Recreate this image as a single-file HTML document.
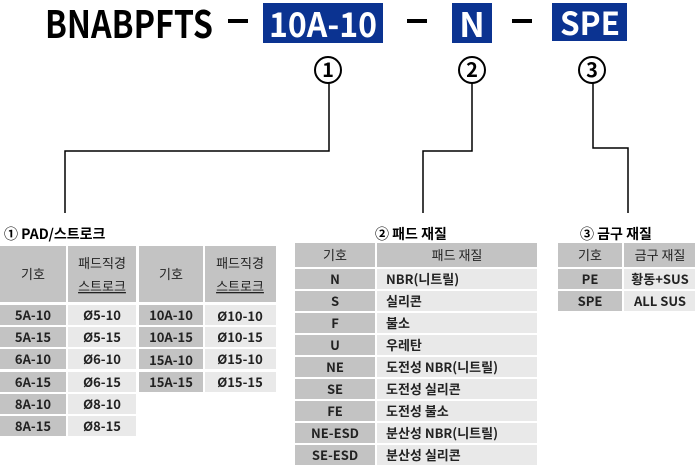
<!DOCTYPE html>
<html><head><meta charset="utf-8"><style>
html,body{margin:0;padding:0;background:#fff;}
svg{display:block}
text{font-family:"Noto Sans CJK KR","Liberation Sans",sans-serif;}
.c{font-size:13px;font-weight:bold;fill:#222;text-anchor:middle}
.h{font-size:13px;fill:#222;text-anchor:middle}
.l{font-size:13px;font-weight:bold;fill:#222}
.t{font-size:14px;font-weight:bold;fill:#000}
</style></head><body>
<svg width="695" height="475" viewBox="0 0 695 475" xmlns="http://www.w3.org/2000/svg">
<text x="45" y="38" font-size="38" font-weight="bold" textLength="168" lengthAdjust="spacingAndGlyphs" fill="#000">BNABPFTS</text>
<rect x="228" y="19" width="20" height="4" fill="#000"/>
<rect x="263" y="3" width="120" height="40" fill="#0b3391"/>
<text x="269" y="37" font-size="34" font-weight="bold" textLength="108" lengthAdjust="spacingAndGlyphs" fill="#fff">10A-10</text>
<rect x="407" y="19" width="20" height="4" fill="#000"/>
<rect x="452" y="3" width="40" height="40" fill="#0b3391"/>
<text x="472" y="37" font-size="34" font-weight="bold" text-anchor="middle" fill="#fff">N</text>
<rect x="512" y="19" width="20" height="4" fill="#000"/>
<rect x="552" y="3" width="75" height="38" fill="#0b3391"/>
<text x="560" y="35" font-size="32" font-weight="bold" textLength="60" lengthAdjust="spacingAndGlyphs" fill="#fff">SPE</text>
<g fill="none" stroke="#000" stroke-width="2">
<circle cx="328" cy="70" r="13"/><circle cx="472" cy="70" r="13"/><circle cx="592" cy="70" r="13"/>
</g>
<g font-size="20" font-weight="bold" text-anchor="middle" fill="#000">
<text x="328" y="77">1</text><text x="472" y="77">2</text><text x="592" y="77">3</text>
</g>
<g fill="none" stroke="#000" stroke-width="1.5">
<polyline points="329,83 329,151 65,151 65,213"/>
<polyline points="472,83 472,151 423,151 423,213"/>
<polyline points="593,83 593,148 628,148 628,213"/>
</g>
<text x="4" y="239" class="t">① PAD/스트로크</text>
<text x="375" y="239" class="t">② 패드 재질</text>
<text x="580" y="239" class="t">③ 금구 재질</text>
<g fill="#c3c3c3">
<rect x="0" y="246" width="66" height="56"/><rect x="68" y="246" width="68" height="56"/>
<rect x="139" y="246" width="64" height="56"/><rect x="205" y="246" width="71" height="56"/>
</g>
<text x="33" y="279" class="h">기호</text>
<text x="102" y="268" class="h">패드직경</text>
<text x="102" y="291" class="h" text-decoration="underline">스트로크</text>
<text x="171" y="279" class="h">기호</text>
<text x="240" y="268" class="h">패드직경</text>
<text x="240" y="291" class="h" text-decoration="underline">스트로크</text>
<g fill="#c3c3c3">
<rect x="0" y="305" width="66" height="20"/><rect x="0" y="327" width="66" height="20"/><rect x="0" y="349" width="66" height="20"/><rect x="0" y="372" width="66" height="20"/><rect x="0" y="394" width="66" height="20"/><rect x="0" y="416" width="66" height="20"/>
<rect x="139" y="305" width="64" height="20"/><rect x="139" y="327" width="64" height="20"/><rect x="139" y="349" width="64" height="20"/><rect x="139" y="372" width="64" height="20"/>
</g>
<g fill="#e9e9e9">
<rect x="68" y="305" width="68" height="20"/><rect x="68" y="327" width="68" height="20"/><rect x="68" y="349" width="68" height="20"/><rect x="68" y="372" width="68" height="20"/><rect x="68" y="394" width="68" height="20"/><rect x="68" y="416" width="68" height="20"/>
<rect x="205" y="305" width="71" height="20"/><rect x="205" y="327" width="71" height="20"/><rect x="205" y="349" width="71" height="20"/><rect x="205" y="372" width="71" height="20"/>
</g>
<text x="33" y="320" class="c">5A-10</text><text x="102" y="320" class="c">Ø5-10</text><text x="171" y="320" class="c">10A-10</text><text x="240" y="321" class="c">Ø10-10</text>
<text x="33" y="342" class="c">5A-15</text><text x="102" y="342" class="c">Ø5-15</text><text x="171" y="342" class="c">10A-15</text><text x="240" y="342" class="c">Ø10-15</text>
<text x="33" y="364" class="c">6A-10</text><text x="102" y="364" class="c">Ø6-10</text><text x="171" y="365" class="c">15A-10</text><text x="240" y="364" class="c">Ø15-10</text>
<text x="33" y="387" class="c">6A-15</text><text x="102" y="387" class="c">Ø6-15</text><text x="171" y="387" class="c">15A-15</text><text x="240" y="387" class="c">Ø15-15</text>
<text x="33" y="409" class="c">8A-10</text><text x="102" y="409" class="c">Ø8-10</text>
<text x="33" y="431" class="c">8A-15</text><text x="102" y="431" class="c">Ø8-15</text>
<rect x="295" y="243" width="80" height="24" fill="#c3c3c3"/><rect x="377" y="243" width="160" height="24" fill="#c3c3c3"/>
<text x="335" y="260" class="h">기호</text><text x="457" y="260" class="h">패드 재질</text>
<g fill="#c3c3c3">
<rect x="295" y="269" width="80" height="20"/><rect x="295" y="291" width="80" height="20"/><rect x="295" y="313" width="80" height="20"/><rect x="295" y="335" width="80" height="20"/><rect x="295" y="357" width="80" height="20"/><rect x="295" y="379" width="80" height="20"/><rect x="295" y="401" width="80" height="20"/><rect x="295" y="423" width="80" height="20"/><rect x="295" y="445" width="80" height="20"/>
</g>
<g fill="#e9e9e9">
<rect x="377" y="269" width="160" height="20"/><rect x="377" y="291" width="160" height="20"/><rect x="377" y="313" width="160" height="20"/><rect x="377" y="335" width="160" height="20"/><rect x="377" y="357" width="160" height="20"/><rect x="377" y="379" width="160" height="20"/><rect x="377" y="401" width="160" height="20"/><rect x="377" y="423" width="160" height="20"/><rect x="377" y="445" width="160" height="20"/>
</g>
<text x="335" y="284" class="c">N</text><text x="386" y="284" class="l">NBR(니트릴)</text>
<text x="335" y="306" class="c">S</text><text x="386" y="306" class="l">실리콘</text>
<text x="335" y="328" class="c">F</text><text x="386" y="328" class="l">불소</text>
<text x="335" y="350" class="c">U</text><text x="386" y="350" class="l">우레탄</text>
<text x="335" y="372" class="c">NE</text><text x="386" y="372" class="l">도전성 NBR(니트릴)</text>
<text x="335" y="394" class="c">SE</text><text x="386" y="394" class="l">도전성 실리콘</text>
<text x="335" y="416" class="c">FE</text><text x="386" y="416" class="l">도전성 불소</text>
<text x="335" y="438" class="c">NE-ESD</text><text x="386" y="438" class="l">분산성 NBR(니트릴)</text>
<text x="335" y="460" class="c">SE-ESD</text><text x="386" y="460" class="l">분산성 실리콘</text>
<rect x="558" y="243" width="64" height="24" fill="#c3c3c3"/><rect x="624" y="243" width="71" height="24" fill="#c3c3c3"/>
<text x="590" y="260" class="h">기호</text><text x="660" y="260" class="h">금구 재질</text>
<rect x="558" y="269" width="64" height="20" fill="#c3c3c3"/><rect x="624" y="269" width="71" height="20" fill="#e9e9e9"/>
<rect x="558" y="291" width="64" height="20" fill="#c3c3c3"/><rect x="624" y="291" width="71" height="20" fill="#e9e9e9"/>
<text x="590" y="284" class="c">PE</text><text x="660" y="284" class="c">황동+SUS</text>
<text x="590" y="306" class="c">SPE</text><text x="660" y="306" class="c">ALL SUS</text>
</svg>
</body></html>
